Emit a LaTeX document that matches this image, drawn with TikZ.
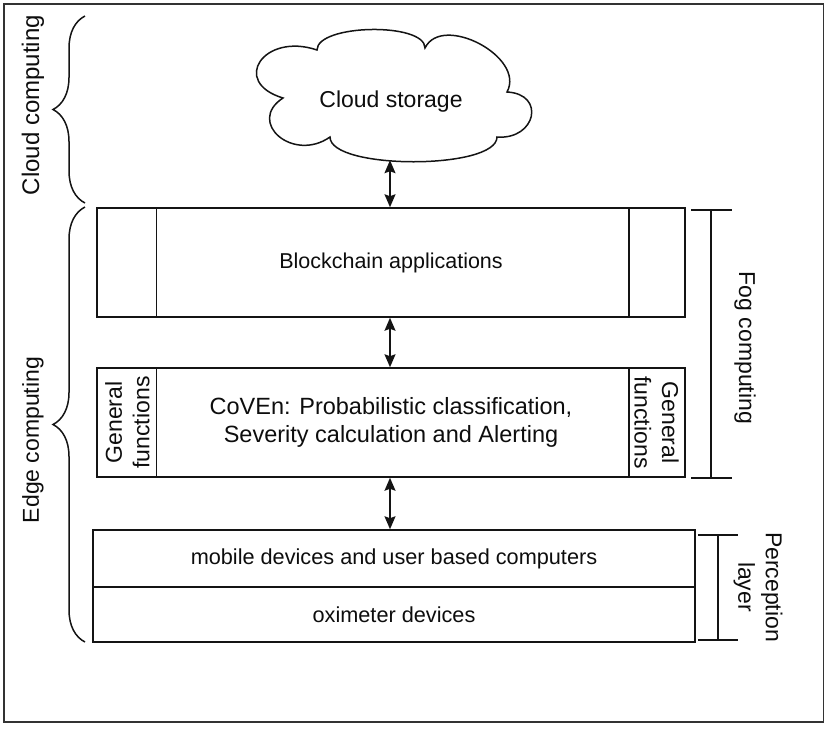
\documentclass[tikz,border=0pt]{standalone}
\usepackage{fontspec}
\setmainfont{Liberation Sans}
\usetikzlibrary{arrows.meta,decorations.pathreplacing}
\newcommand{\fsz}[2]{\fontsize{#1}{#2}\selectfont}
\begin{document}
\begin{tikzpicture}[x=1pt,y=-1pt,
  ln/.style={line width=1.5pt, draw=black!92},
  txt/.style={text=black!95, inner sep=0pt, align=center},
  box/.style={ln, txt, rectangle, minimum width=588pt, minimum height=109pt},
  lay/.style={ln, txt, rectangle, minimum width=602pt, font={\fsz{21.7}{26}}},
  arr/.style={ln, {Stealth[length=13pt,width=11pt,inset=2pt]}-{Stealth[length=13pt,width=11pt,inset=2pt]}},
  brc/.style={ln, decorate, decoration={brace, amplitude=32pt}},
  side/.style={txt, font={\fsz{23}{27.5}}},
]
\useasboundingbox (0,0) rectangle (828,729);
\draw[line width=1.9pt, draw=black!80] (4,4) rectangle (823.5,722);

% cloud
\draw[ln] (283,98) .. controls (230,82) and (264,32) .. (317,50)
  .. controls (317,24) and (425,22) .. (425,48)
  .. controls (442,13) and (526,57) .. (507,92)
  .. controls (546,94) and (536,140) .. (497,137)
  .. controls (497,170) and (330,170) .. (330,137)
  .. controls (293,163) and (246,122) .. (283,98) -- cycle;
\node[inner sep=0pt, minimum width=280pt, minimum height=128pt] (cloud) at (390,96) {};
\node[txt, font={\fsz{23}{27}}] (cloudtxt) at (391,102) {Cloud storage};

% blockchain layer
\node[box, draw, font={\fsz{21.5}{26}}] (block) at (391,262.5) {Blockchain applications};
\draw[ln] ([xshift=60pt]block.north west) -- ([xshift=60pt]block.south west);
\draw[ln] ([xshift=-57pt]block.north east) -- ([xshift=-57pt]block.south east);

% CoVEn layer
\node[box, draw, font={\fsz{23.5}{28}}] (coven) at (391,422.5) {CoVEn: Probabilistic classification,\\Severity calculation and Alerting};
\draw[ln] ([xshift=60pt]coven.north west) -- ([xshift=60pt]coven.south west);
\draw[ln] ([xshift=-57pt]coven.north east) -- ([xshift=-57pt]coven.south east);
\node[side, rotate=90] (gfl) at (127.5,422.5) {General\\functions};
\node[side, rotate=-90] (gfr) at (656.5,422.5) {General\\functions};

% perception layer
\node[lay, draw, minimum height=57pt] (mobile) at (394,558.5) {mobile devices and user based computers};
\node[lay, draw, minimum height=55pt] (oxi) at (394,614.5) {oximeter devices};

% arrows
\draw[arr] (cloud.south) -- (cloud.south |- block.north);
\draw[arr] (cloud.south |- block.south) -- (cloud.south |- coven.north);
\draw[arr] (cloud.south |- coven.south) -- (cloud.south |- mobile.north);

% left braces
\draw[brc] (85,203) -- (85,16);
\draw[brc] (85,642) -- (85,207);
\node[side, rotate=90, font={\fsz{24}{28}}] (cloudlbl) at (33,105) {Cloud computing};
\node[side, rotate=90] (edgelbl) at (33,440) {Edge computing};

% fog bracket
\draw[ln] (691,210) -- (732,210);
\draw[ln] (691,478) -- (732,478);
\draw[ln] (711,210) -- (711,478);
\node[side, rotate=-90] (foglbl) at (745,348) {Fog computing};

% perception bracket
\draw[ln] (698,535) -- (738,535);
\draw[ln] (698,640) -- (738,640);
\draw[ln] (718,535) -- (718,640);
\node[side, rotate=-90] (perclbl) at (758,587) {Perception\\layer};
\end{tikzpicture}
\end{document}
